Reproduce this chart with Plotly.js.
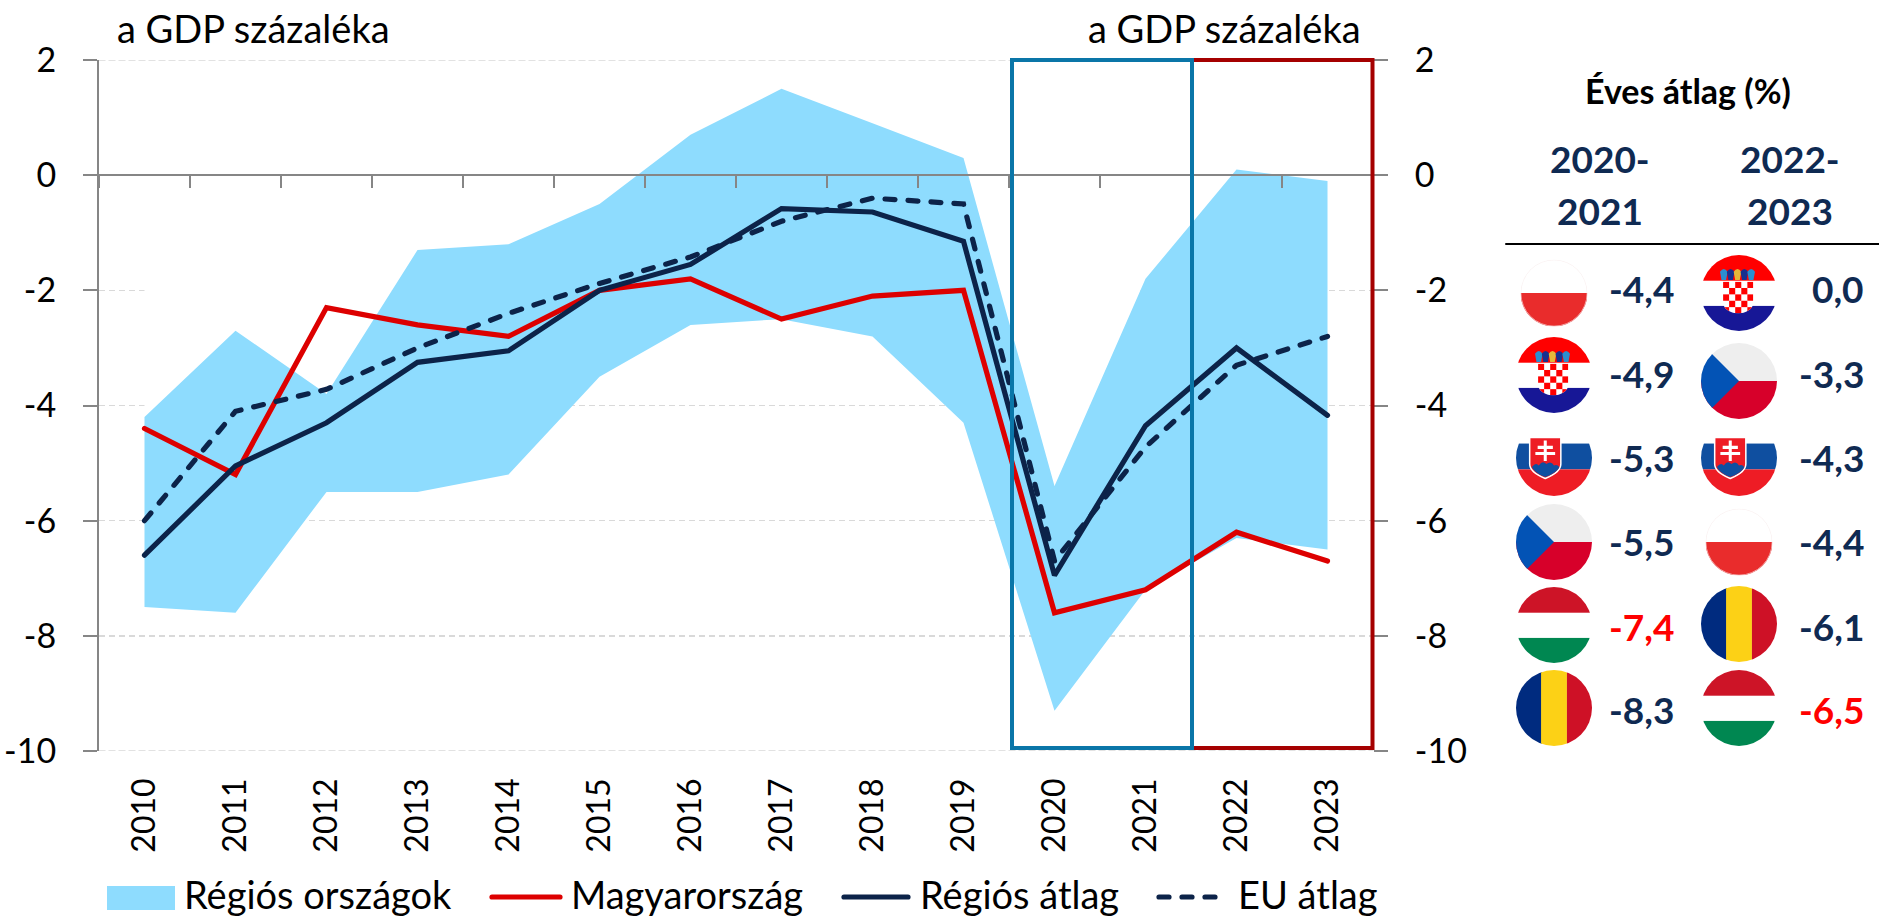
<!DOCTYPE html>
<html>
<head>
<meta charset="utf-8">
<script src="https://cdn.plot.ly/plotly-3.0.1.min.js"></script>
<style>html,body{margin:0;padding:0;background:#fff;overflow:hidden}#chart{width:1879px;height:919px}
.scatterlayer path.js-line,.shapelayer path{stroke-linecap:round}</style>
</head>
<body>
<div id="chart"></div>
<script>
const years = [2010,2011,2012,2013,2014,2015,2016,2017,2018,2019,2020,2021,2022,2023];
const bandUpper = [-4.2,-2.7,-3.8,-1.3,-1.2,-0.5,0.7,1.5,0.9,0.3,-5.4,-1.8,0.1,-0.1];
const bandLower = [-7.5,-7.6,-5.5,-5.5,-5.2,-3.5,-2.6,-2.5,-2.8,-4.3,-9.3,-7.2,-6.3,-6.5];
const hungary = [-4.4,-5.2,-2.3,-2.6,-2.8,-2.0,-1.8,-2.5,-2.1,-2.0,-7.6,-7.2,-6.2,-6.7];
const regional = [-6.6,-5.05,-4.3,-3.25,-3.05,-2.0,-1.55,-0.58,-0.64,-1.15,-6.95,-4.35,-3.0,-4.17];
const euAverage = [-6.0,-4.1,-3.72,-3.0,-2.4,-1.88,-1.42,-0.8,-0.4,-0.5,-6.7,-4.72,-3.3,-2.8];
const yTicks = [2,0,-2,-4,-6,-8,-10];
const yTickLabels = ['2','0','-2','-4','-6','-8','-10'];
const legendLabels = ['Régiós országok','Magyarország','Régiós átlag','EU átlag'];
const axisTitle = 'a GDP százaléka';
const panelTitle = 'Éves átlag (%)';
const periods = [['2020-','2021'],['2022-','2023']];
const flags2021 = ['pl','hr','sk','cz','hu','ro'];
const values2021 = ['-4,4','-4,9','-5,3','-5,5','-7,4','-8,3'];
const flags2023 = ['hr','cz','sk','pl','ro','hu'];
const values2023 = ['0,0','-3,3','-4,3','-4,4','-6,1','-6,5'];

const C = {band:'#8EDCFE', red:'#DD0000', navy:'#0C2349', axis:'#868686', grid:'#D9D9D9', blue:'#0A76A8', dark:'#A50000', text:'#000000', num:'#0F2A52', hi:'#FF0000'};
const FONT = 'Lato, Carlito, Calibri, sans-serif';
const L=99, R=1373, T=60, B=751;
const LINE_W = 5.2, DASH = '10px,13px', GRID_DASH = '6px,4px';
const px = x => (x-L)/(R-L);
const py = y => (B-y)/(B-T);

function croatianCrest(){
  const outline='M29 35H69V62C69 72 58 77 49 77C40 77 29 72 29 62Z';
  let cells='<rect x="29" y="35" width="40" height="42" fill="#fff"/>';
  const n=5, w=8, h=8.4;
  for(let r=0;r<n;r++)for(let c=0;c<n;c++){ if((r+c)%2===0){
    cells+=`<rect x="${29+c*w}" y="${35+r*h}" width="${w}" height="${h}" fill="#f00"/>`;
  }}
  const crown=['#2a8fd0','#17308f','#e5b93a','#17308f','#2a8fd0'];
  return `<clipPath id="k"><path d="${outline}"/></clipPath><g clip-path="url(#k)">${cells}</g>`
    + crown.map((col,i)=>`<path d="M${27+i*9} 33 L${25+i*9} 22 Q${30+i*9} 15 ${35+i*9} 22 L${33+i*9} 33Z" fill="${col}"/>`).join('');
}
const flagArt = {
  pl:'<rect width="100" height="50" fill="#fff"/><rect y="50" width="100" height="50" fill="#E92C2C"/><circle cx="50" cy="50" r="49.5" fill="none" stroke="#F8ECEC" stroke-width="1"/>',
  hr:'<rect width="100" height="34" fill="#f00"/><rect y="34" width="100" height="33" fill="#fff"/><rect y="67" width="100" height="33" fill="#171796"/>'+croatianCrest(),
  sk:'<rect width="100" height="31" fill="#fff"/><rect y="31" width="100" height="34" fill="#0F4FA0"/><rect y="65" width="100" height="35" fill="#EE1C25"/>'
    +'<path d="M18 23H59V58C59 68 46 74 38.5 77C31 74 18 68 18 58Z" fill="#EE1C25" stroke="#fff" stroke-width="2"/>'
    +'<path d="M36.5 27h4v7h8v4h-8v4h11v4h-11v8h-4v-8h-11v-4h11v-4h-8v-4h8z" fill="#fff"/>'
    +'<path d="M21 62Q26 55 30 60Q35 52 40 58Q46 53 50 60Q54 58 57 62C54 69 45 73 38.5 75C32 73 24 69 21 62Z" fill="#0F4FA0"/>',
  cz:'<rect width="100" height="50" fill="#EEEEEE"/><rect y="50" width="100" height="50" fill="#D7002A"/><path d="M0 0L50 50L0 100Z" fill="#0353B5"/>',
  hu:'<rect width="100" height="34" fill="#CD1427"/><rect y="34" width="100" height="33" fill="#fff"/><rect y="67" width="100" height="33" fill="#008751"/>',
  ro:'<rect width="34" height="100" fill="#002B7F"/><rect x="33" width="34" height="100" fill="#FCD116"/><rect x="67" width="33" height="100" fill="#CE1126"/>'
};
function flagSrc(code){
  const svg=`<svg xmlns="http://www.w3.org/2000/svg" width="200" height="200" viewBox="0 0 100 100"><defs><clipPath id="c"><circle cx="50" cy="50" r="50"/></clipPath></defs><g clip-path="url(#c)">${flagArt[code]}</g></svg>`;
  return 'data:image/svg+xml;base64,'+btoa(svg);
}
const radius = {pl:33.5,hr:38,sk:38,cz:38,hu:38,ro:38};
const rowFlagY1 = [293,375,458,542,625,708];
const rowFlagY2 = [293,381,458,542,624,708];
const rowTextY = [288,373,457,541,626,709];
const images = [];
function addFlags(list,cx,ys){ list.forEach((f,i)=>{ const r=radius[f];
  images.push({source:flagSrc(f),xref:'paper',yref:'paper',x:px(cx-r),y:py(ys[i]-r),sizex:2*r/(R-L),sizey:2*r/(B-T),xanchor:'left',yanchor:'top',sizing:'stretch',layer:'above'}); }); }
addFlags(flags2021,1554,rowFlagY1);
addFlags(flags2023,1739,rowFlagY2);

const ann = (text,x,y,size,color,xanchor,bold) => ({text:bold?`<b>${text}</b>`:text,x:px(x),y:py(y),xref:'paper',yref:'paper',showarrow:false,xanchor:xanchor,yanchor:'middle',borderpad:0,font:{family:FONT,size:size,color:color}});
const annotations = [
  ann(axisTitle,116,28,38,C.text,'left'),
  ann(axisTitle,1362,28,38,C.text,'right'),
  ann(panelTitle,1688,90,34,C.text,'center',true),
  ann(periods[0][0],1600,158,37,C.num,'center',true),
  ann(periods[0][1],1600,210,37,C.num,'center',true),
  ann(periods[1][0],1790,158,37,C.num,'center',true),
  ann(periods[1][1],1790,210,37,C.num,'center',true),
  ann(legendLabels[0],183,894,38,C.text,'left'),
  ann(legendLabels[1],570,894,38,C.text,'left'),
  ann(legendLabels[2],919,894,38,C.text,'left'),
  ann(legendLabels[3],1237,894,38,C.text,'left')
];
values2021.forEach((v,i)=>annotations.push(ann(v,1675,rowTextY[i],37,flags2021[i]==='hu'?C.hi:C.num,'right',true)));
values2023.forEach((v,i)=>annotations.push(ann(v,1865,rowTextY[i],37,flags2023[i]==='hu'?C.hi:C.num,'right',true)));

const pline = (x0,x1,y,color,width,dash) => ({type:'line',xref:'paper',yref:'paper',x0:px(x0),x1:px(x1),y0:py(y),y1:py(y),line:{color:color,width:width,dash:dash||'solid'},layer:'above'});
const edgeGrid = v => ({type:'line',xref:'paper',yref:'y',x0:0,x1:1,y0:v,y1:v,line:{color:C.grid,width:1.5,dash:GRID_DASH},layer:'below'});
const shapes = [
  edgeGrid(2), edgeGrid(-10),
  {type:'rect',xref:'paper',yref:'paper',x0:px(1192),x1:px(1372.5),y0:py(748),y1:py(60),line:{color:C.dark,width:4},fillcolor:'rgba(0,0,0,0)',layer:'above'},
  {type:'rect',xref:'paper',yref:'paper',x0:px(1012),x1:px(1192),y0:py(748),y1:py(60),line:{color:C.blue,width:4},fillcolor:'rgba(0,0,0,0)',layer:'above'},
  {type:'rect',xref:'paper',yref:'paper',x0:px(107),x1:px(175),y0:py(910),y1:py(886),line:{width:0},fillcolor:C.band,layer:'above'},
  pline(492,560,897,C.red,LINE_W),
  pline(844,908,897,C.navy,LINE_W),
  pline(1159,1220,897,C.navy,LINE_W,DASH),
  pline(1506,1879,244,'#000000',2)
];

const maskTop = bandUpper.map(v=>Math.min(v,0));
const zeros = years.map(()=>0);
const traces = [
  {x:years.concat(years.slice().reverse()),y:maskTop.concat(zeros),mode:'lines',fill:'toself',fillcolor:'#ffffff',line:{width:0},hoverinfo:'skip',showlegend:false},
  {x:years.concat(years.slice().reverse()),y:bandUpper.concat(bandLower.slice().reverse()),mode:'lines',fill:'toself',fillcolor:C.band,line:{width:0},name:legendLabels[0],showlegend:false},
  {x:years,y:hungary,mode:'lines',line:{color:C.red,width:LINE_W},name:legendLabels[1],showlegend:false},
  {x:years,y:regional,mode:'lines',line:{color:C.navy,width:LINE_W},name:legendLabels[2],showlegend:false},
  {x:years,y:euAverage,mode:'lines',line:{color:C.navy,width:LINE_W,dash:DASH},name:legendLabels[3],showlegend:false},
  {x:[null],y:[null],xaxis:'x2',yaxis:'y',hoverinfo:'skip',showlegend:false},
  {x:[null],y:[null],xaxis:'x',yaxis:'y2',hoverinfo:'skip',showlegend:false}
];
const edges = years.map(v=>v-0.5).concat([2023.5]);
const range = [2009.5,2023.5];
const yAxisBase = {range:[-10,2],tickmode:'array',tickvals:yTicks,ticktext:yTickLabels,ticks:'outside',ticklen:14,tickwidth:2,tickcolor:C.axis,zeroline:false,
  tickfont:{family:FONT,size:34,color:C.text},ticklabelstandoff:20};
const layout = {
  width:1879,height:919,margin:{l:L,r:1879-R,t:T,b:919-B,pad:0},paper_bgcolor:'#fff',plot_bgcolor:'#fff',showlegend:false,
  font:{family:FONT},
  xaxis:{range:range,tickmode:'array',tickvals:years,ticktext:years.map(String),tickangle:-90,ticks:'',showline:false,showgrid:false,zeroline:false,
    tickfont:{family:FONT,size:32,color:C.text},ticklabelstandoff:20,automargin:false},
  xaxis2:{range:range,overlaying:'x',anchor:'free',position:10/12,side:'bottom',tickmode:'array',tickvals:edges,ticks:'outside',ticklen:12,tickwidth:2,tickcolor:C.axis,showticklabels:false,showline:true,linecolor:C.axis,linewidth:2,showgrid:false,zeroline:false},
  yaxis:Object.assign({},yAxisBase,{showline:true,linecolor:C.axis,linewidth:2,showgrid:true,gridcolor:C.grid,gridwidth:1.5,griddash:GRID_DASH,automargin:false}),
  yaxis2:Object.assign({},yAxisBase,{overlaying:'y',side:'right',anchor:'x',showline:false,showgrid:false,automargin:false}),
  annotations:annotations,shapes:shapes,images:images
};
Plotly.newPlot('chart',traces,layout,{displayModeBar:false,staticPlot:true});
</script>
</body>
</html>
